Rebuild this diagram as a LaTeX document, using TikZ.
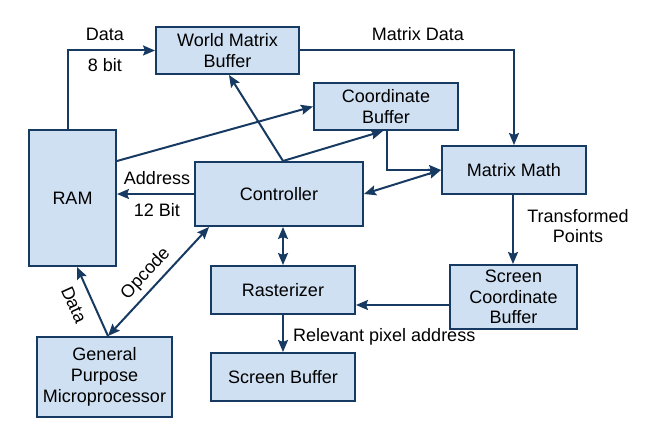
\documentclass[tikz,border=0pt]{standalone}
\usepackage{fontspec}
\setmainfont{Liberation Sans}
\usetikzlibrary{arrows.meta}
\definecolor{boxfill}{RGB}{207,224,242}
\definecolor{boxline}{RGB}{23,58,98}
\tikzset{
  box/.style={draw=boxline, fill=boxfill, line width=2pt, align=center, inner sep=0pt},
  arr/.style={draw=boxline, line width=2pt, -{Stealth[length=12pt,width=10pt,inset=2pt]}},
  darr/.style={draw=boxline, line width=2pt, {Stealth[length=12pt,width=10pt,inset=2pt]}-{Stealth[length=12pt,width=10pt,inset=2pt]}},
  lbl/.style={inner sep=0pt, anchor=base, align=center}
}
\begin{document}
\begin{tikzpicture}[x=1pt,y=-1pt, font=\fontsize{18}{20.7}\selectfont]
\useasboundingbox[fill=white] (0,0) rectangle (649,446);
\node[box, minimum width=143pt, minimum height=47pt] (wmb) at (227.5,50.5) {World Matrix\\Buffer};
\node[box, minimum width=87pt, minimum height=136pt] (ram) at (72.5,198) {RAM};
\node[box, minimum width=168pt, minimum height=64pt] (ctrl) at (279,194) {Controller};
\node[box, minimum width=144pt, minimum height=47pt] (cb) at (386,106.5) {Coordinate\\Buffer};
\node[box, minimum width=144pt, minimum height=48pt] (mm) at (514,170) {Matrix Math};
\node[box, minimum width=127pt, minimum height=64pt] (scb) at (513.5,297) {Screen\\Coordinate\\Buffer};
\node[box, minimum width=144pt, minimum height=48pt] (rast) at (283,290) {Rasterizer};
\node[box, minimum width=144pt, minimum height=48pt] (sb) at (283,377) {Screen Buffer};
\node[box, minimum width=135pt, minimum height=80pt] (gpm) at (104.5,377) {General\\Purpose\\Microprocessor};

% RAM -> World Matrix Buffer
\draw[arr] ([xshift=-4.5pt]ram.north) |- (wmb.west);
\node[lbl] (ldata) at (105,41) {Data};
\node[lbl] (l8bit) at (105,72) {8 bit};
% World Matrix Buffer -> Matrix Math
\draw[arr] (wmb.east) -| (mm.north);
\node[lbl] (lmd) at (418,41) {Matrix Data};
% RAM -> Coordinate Buffer
\draw[arr] ([yshift=-32pt]ram.north east) -- (cb.west);
% Controller -> World Matrix Buffer, Coordinate Buffer
\coordinate (ctop) at ([xshift=4pt]ctrl.north);
\draw[arr] (ctop) -- ([xshift=1.5pt]wmb.south);
\draw[arr] (ctop) -- ([xshift=-3pt]cb.south);
% Coordinate Buffer -> Matrix Math
\draw[arr] ([xshift=1pt]cb.south) |- (mm.west);
% Controller <-> Matrix Math
\draw[darr] (ctrl.east) -- (mm.west);
% Controller -> RAM
\draw[arr] (ctrl.west) -- (ctrl.west -| ram.east);
\node[lbl] (laddr) at (157,185) {Address};
\node[lbl] (l12) at (157,217) {12 Bit};
% Matrix Math -> Screen Coordinate Buffer
\draw[arr] ([xshift=-1pt]mm.south) -- ([xshift=-1pt]mm.south |- scb.north);
\node[lbl] (ltp) at (578,243) {Transformed\\Points};
% Screen Coordinate Buffer -> Rasterizer
\draw[arr] ([yshift=-8pt]scb.west) -- ([yshift=-8pt]scb.west -| rast.east);
% Controller <-> Rasterizer
\draw[darr] (rast.north |- ctrl.south) -- (rast.north);
% Rasterizer -> Screen Buffer
\draw[arr] (rast.south) -- (sb.north);
\node[lbl, anchor=base west] (lrpa) at (293,342) {Relevant pixel address};
% GPM -> RAM
\coordinate (gtop) at ([xshift=3.5pt]gpm.north);
\draw[arr] (gtop) -- node[sloped, pos=0.56, below=8pt, inner sep=3pt] (ldata2) {Data} ([xshift=4.5pt]ram.south);
% GPM <-> Controller
\draw[darr] (gtop) -- node[sloped, pos=0.48, above=2pt, inner sep=3pt] (lop) {Opcode} ([xshift=15pt]ctrl.south west);
\end{tikzpicture}
\end{document}
